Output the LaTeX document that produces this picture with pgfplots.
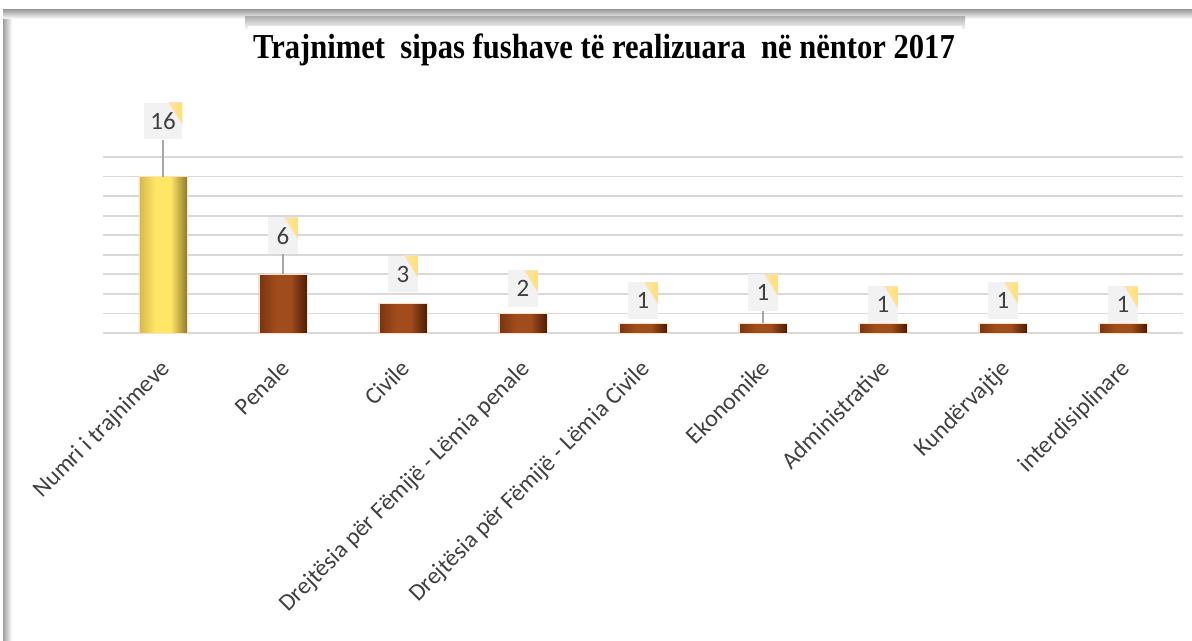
\documentclass[border=0pt]{standalone}
\usepackage{pgfplots}
\pgfplotsset{compat=1.18}
\usepackage{pgfplotstable}
\usepackage{graphicx}
\usepackage{fontspec}
\setmainfont{Carlito}
\newfontfamily\titlefont{Liberation Serif}

\definecolor{gridgray}{HTML}{D9D9D9}
\definecolor{goldL}{HTML}{D6B64C}
\definecolor{goldM}{HTML}{FFE666}
\definecolor{goldR}{HTML}{8F7A2C}
\definecolor{brownL}{HTML}{7A3410}
\definecolor{brownM}{HTML}{A04C1C}
\definecolor{brownR}{HTML}{4A1C06}
\definecolor{boxgray}{HTML}{F2F2F2}
\definecolor{boxyellow}{HTML}{FFDF70}
\definecolor{txtgray}{HTML}{404040}

\pgfdeclarehorizontalshading{goldbar}{100bp}{
  color(0bp)=(goldL); color(25bp)=(goldL); color(42bp)=(goldM);
  color(58bp)=(goldM); color(75bp)=(goldR); color(100bp)=(goldR)}
\pgfdeclarehorizontalshading{brownbar}{100bp}{
  color(0bp)=(brownL); color(25bp)=(brownL); color(42bp)=(brownM);
  color(58bp)=(brownM); color(75bp)=(brownR); color(100bp)=(brownR)}

% x = category, y = value, off = label gap (pt), lead = leader line (units)
\pgfplotstableread{
x y off lead
0 16 22.2 3.78
1 6 12.0 2.05
2 3 6.6 0
3 2 3.6 0
4 1 2.4 0
5 1 7.2 1.23
6 1 0 0
7 1 2.4 0
8 1 0 0
}\datatab

\begin{document}
\begin{tikzpicture}
\useasboundingbox (0,0) rectangle (715.2pt,384.6pt);
\begin{scope}[x=0.6pt,y=0.6pt]
  \shade[left color=gray!75, right color=white] (3,0) rectangle (12,631);
  \shade[top color=gray!75, bottom color=white] (3,622) rectangle (1192,631);
  \shade[top color=gray!60, bottom color=white] (245,611) rectangle (965,624);
  \fill[white] (248,571) rectangle (962,615);
  \node at (604,591) {\titlefont\bfseries\fontsize{21}{24}\selectfont
    \resizebox{421pt}{\height}{Trajnimet\ \ sipas fushave të realizuara\ \ në nëntor 2017}};
\end{scope}

\begin{axis}[
    at={(61.8pt,184.8pt)},
    anchor=south west,
    scale only axis,
    width=648pt,
    height=105.6pt,
    xmin=-0.5, xmax=8.5,
    ymin=0, ymax=18,
    ybar,
    bar width=28.8pt,
    bar shift=0pt,
    axis line style={draw=none},
    major tick length=0pt,
    ytick={0,2,...,18},
    yticklabels={},
    ymajorgrids,
    major grid style={gridgray, line width=1.1pt},
    xtick={0,...,8},
    xticklabels={
        {Numri i trajnimeve},
        {Penale},
        {Civile},
        {Drejtësia për Fëmijë - Lëmia penale},
        {Drejtësia për Fëmijë - Lëmia Civile},
        {Ekonomike},
        {Administrative},
        {Kundërvajtje},
        {interdisiplinare}
    },
    x tick label style={
        rotate=45,
        anchor=north east,
        font=\fontsize{14.4}{16}\selectfont,
        text=txtgray,
        inner sep=2pt,
        xshift=-10pt,
        yshift=-7pt
    },
    clip=false,
    /pgf/number format/assume math mode=true,
    nodes near coords,
    visualization depends on={\thisrow{off} \as \off},
    every node near coord/.append style={
        yshift=\off pt,
        anchor=south,
        font=\fontsize{15}{17}\selectfont,
        text=txtgray,
        fill=boxgray,
        inner xsep=4pt,
        minimum width=18pt,
        minimum height=22pt,
        path picture={
            \path[left color=boxgray, right color=boxyellow]
                ([xshift=-8pt]path picture bounding box.north east)
                -- (path picture bounding box.north east)
                -- ([yshift=-13pt]path picture bounding box.north east)
                -- cycle;
        }
    },
    error bars/y dir=plus,
    error bars/y explicit,
    error bars/error mark=none,
    error bars/error bar style={color=gray!70, line width=0.8pt},
]

\addplot[draw=orange!25, line width=0.4pt, shade, shading=goldbar,
    x filter/.expression={abs(x)<0.1 ? x : nan}]
    table[x=x, y=y, y error=lead] {\datatab};

\pgfplotsinvokeforeach{1,...,8}{
\addplot[draw=orange!25, line width=0.4pt, shade, shading=brownbar,
    x filter/.expression={abs(x-#1)<0.1 ? x : nan}]
    table[x=x, y=y, y error=lead] {\datatab};
}

\end{axis}
\end{tikzpicture}
\end{document}
